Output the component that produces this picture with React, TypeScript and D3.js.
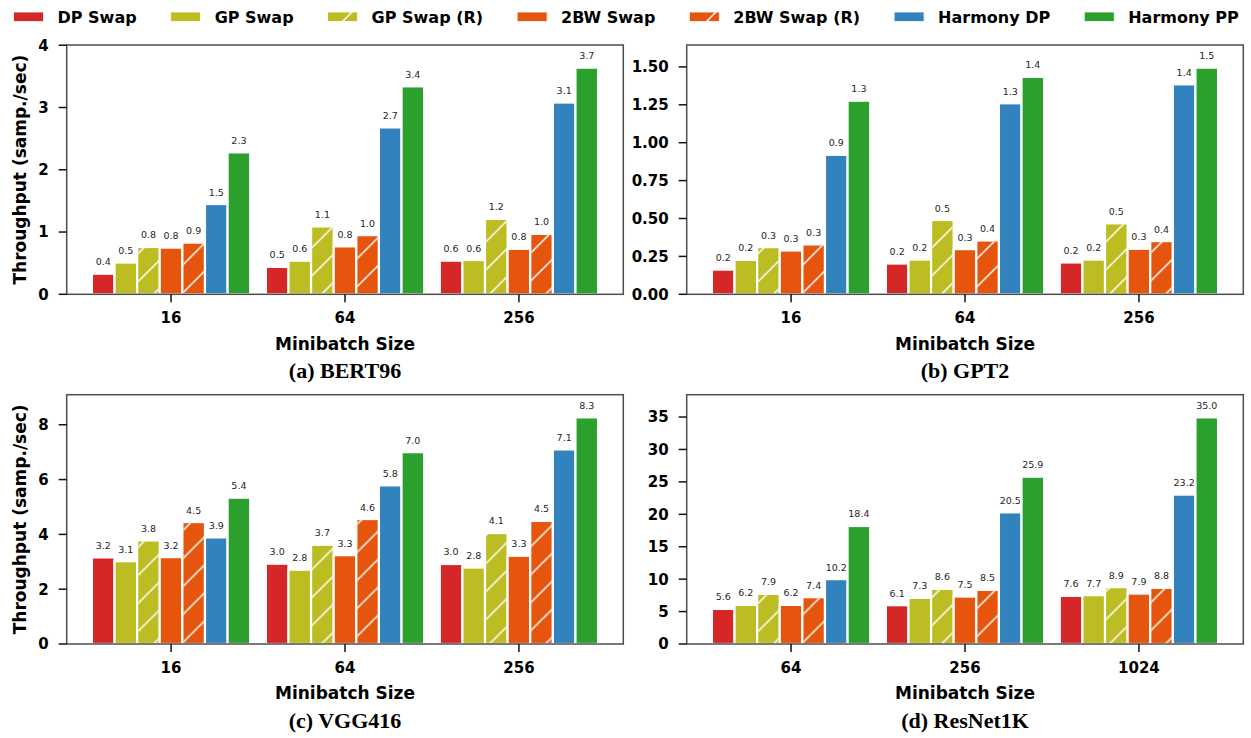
import React, { useRef, useEffect } from 'react';
import * as d3 from 'd3';

// series (legend order)
const categories = ['DP Swap', 'GP Swap', 'GP Swap (R)', '2BW Swap', '2BW Swap (R)', 'Harmony DP', 'Harmony PP'];
const colors = ['#d62728', '#bcbd22', '#bcbd22', '#e6550d', '#e6550d', '#3182bd', '#2ca02c'];
const hatched = [false, false, true, false, true, false, false];

// (a) BERT96
const bertBatches = ['16', '64', '256'];
const bertValues = [
  [0.33, 0.51, 0.76, 0.75, 0.83, 1.45, 2.28],
  [0.44, 0.54, 1.09, 0.77, 0.95, 2.68, 3.34],
  [0.54, 0.55, 1.21, 0.73, 0.97, 3.08, 3.64],
];
const bertLabels = [
  ['0.4', '0.5', '0.8', '0.8', '0.9', '1.5', '2.3'],
  ['0.5', '0.6', '1.1', '0.8', '1.0', '2.7', '3.4'],
  ['0.6', '0.6', '1.2', '0.8', '1.0', '3.1', '3.7'],
];
const bertTicks = [0, 1, 2, 3, 4];

// (b) GPT2
const gptBatches = ['16', '64', '256'];
const gptValues = [
  [0.163, 0.227, 0.311, 0.289, 0.329, 0.92, 1.277],
  [0.203, 0.229, 0.49, 0.298, 0.355, 1.26, 1.434],
  [0.21, 0.229, 0.468, 0.3, 0.351, 1.385, 1.495],
];
const gptLabels = [
  ['0.2', '0.2', '0.3', '0.3', '0.3', '0.9', '1.3'],
  ['0.2', '0.2', '0.5', '0.3', '0.4', '1.3', '1.4'],
  ['0.2', '0.2', '0.5', '0.3', '0.4', '1.4', '1.5'],
];
const gptTicks = [0, 0.25, 0.5, 0.75, 1.0, 1.25, 1.5];

// (c) VGG416
const vggBatches = ['16', '64', '256'];
const vggValues = [
  [3.16, 3.02, 3.78, 3.17, 4.45, 3.89, 5.34],
  [2.93, 2.71, 3.62, 3.24, 4.56, 5.79, 7.0],
  [2.92, 2.79, 4.05, 3.22, 4.49, 7.1, 8.27],
];
const vggLabels = [
  ['3.2', '3.1', '3.8', '3.2', '4.5', '3.9', '5.4'],
  ['3.0', '2.8', '3.7', '3.3', '4.6', '5.8', '7.0'],
  ['3.0', '2.8', '4.1', '3.3', '4.5', '7.1', '8.3'],
];
const vggTicks = [0, 2, 4, 6, 8];

// (d) ResNet1K
const resnetBatches = ['64', '256', '1024'];
const resnetValues = [
  [5.41, 6.03, 7.73, 6.03, 7.22, 10.0, 18.2],
  [5.98, 7.11, 8.5, 7.32, 8.35, 20.3, 25.8],
  [7.42, 7.53, 8.77, 7.78, 8.66, 23.04, 34.95],
];
const resnetLabels = [
  ['5.6', '6.2', '7.9', '6.2', '7.4', '10.2', '18.4'],
  ['6.1', '7.3', '8.6', '7.5', '8.5', '20.5', '25.9'],
  ['7.6', '7.7', '8.9', '7.9', '8.8', '23.2', '35.0'],
];
const resnetTicks = [0, 5, 10, 15, 20, 25, 30, 35];

const FONT = 'DejaVu Sans, Verdana, sans-serif';

const App = () => {
  const svgRef = useRef(null);

  useEffect(() => {
    const width = 1251;
    const height = 738;
    const svg = d3.select(svgRef.current);
    svg.selectAll('*').remove();
    svg.attr('width', width).attr('height', height);

    // hatch pattern '/'
    const defs = svg.append('defs');
    const pat = defs.append('pattern')
      .attr('id', 'hatch')
      .attr('patternUnits', 'userSpaceOnUse')
      .attr('width', 28)
      .attr('height', 28);
    pat.append('path')
      .attr('d', 'M-7,7 L7,-7 M0,28 L28,0 M21,35 L35,21')
      .attr('stroke', 'white')
      .attr('stroke-width', 1.5);

    const panels = [
      { batches: bertBatches, values: bertValues, labels: bertLabels, ticks: bertTicks, fmt: 'd', caption: '(a) BERT96', left: 66.7, top: 45, ylabel: true },
      { batches: gptBatches, values: gptValues, labels: gptLabels, ticks: gptTicks, fmt: '.2f', caption: '(b) GPT2', left: 686.7, top: 45, ylabel: false },
      { batches: vggBatches, values: vggValues, labels: vggLabels, ticks: vggTicks, fmt: 'd', caption: '(c) VGG416', left: 66.7, top: 394.7, ylabel: true },
      { batches: resnetBatches, values: resnetValues, labels: resnetLabels, ticks: resnetTicks, fmt: 'd', caption: '(d) ResNet1K', left: 686.7, top: 394.7, ylabel: false },
    ];
    const pw = 556.6;
    const ph = 249.3;
    const barW = 0.13;

    panels.forEach(p => {
      const g = svg.append('g').attr('transform', `translate(${p.left},${p.top})`);
      const x = d3.scaleLinear().domain([-0.6, 2.6]).range([0, pw]);
      const ymax = d3.max(p.values.flat()) * 1.1;
      const y = d3.scaleLinear().domain([0, ymax]).range([ph, 0]);
      const pxW = x(barW) - x(0);

      p.values.forEach((grp, gi) => {
        grp.forEach((v, si) => {
          const cx = gi + (si - 3) * barW;
          const x0 = x(cx) - pxW / 2;
          g.append('rect')
            .attr('x', x0).attr('y', y(v))
            .attr('width', pxW).attr('height', ph - y(v))
            .attr('fill', colors[si])
            .attr('stroke', 'white').attr('stroke-width', 2.2);
          if (hatched[si]) {
            g.append('rect')
              .attr('x', x0 + 1).attr('y', y(v) + 1)
              .attr('width', pxW - 2).attr('height', Math.max(0, ph - y(v) - 1))
              .attr('fill', 'url(#hatch)');
          }
          g.append('text')
            .attr('x', x(cx)).attr('y', y(v) - 8.5)
            .attr('text-anchor', 'middle')
            .style('font-family', FONT).style('font-size', '9.5px')
            .attr('fill', '#262626')
            .text(p.labels[gi][si]);
        });
      });

      // frame
      g.append('rect')
        .attr('x', 0).attr('y', 0).attr('width', pw).attr('height', ph)
        .attr('fill', 'none').attr('stroke', '#4d4d4d').attr('stroke-width', 1.5);

      // y ticks
      const fmt = d3.format(p.fmt);
      p.ticks.filter(t => t <= ymax + 1e-9).forEach(t => {
        g.append('line').attr('x1', -8).attr('x2', 0).attr('y1', y(t)).attr('y2', y(t))
          .attr('stroke', '#111').attr('stroke-width', 1.5);
        g.append('text').attr('x', -18).attr('y', y(t)).attr('dy', '0.36em')
          .attr('text-anchor', 'end')
          .style('font-family', FONT).style('font-size', '15px').style('font-weight', 'bold')
          .text(fmt(t));
      });

      // x ticks
      p.batches.forEach((b, i) => {
        g.append('line').attr('x1', x(i)).attr('x2', x(i)).attr('y1', ph).attr('y2', ph + 8)
          .attr('stroke', '#111').attr('stroke-width', 1.5);
        g.append('text').attr('x', x(i)).attr('y', ph + 29)
          .attr('text-anchor', 'middle')
          .style('font-family', FONT).style('font-size', '15px').style('font-weight', 'bold')
          .text(b);
      });

      g.append('text').attr('x', pw / 2).attr('y', ph + 55.5)
        .attr('text-anchor', 'middle')
        .style('font-family', FONT).style('font-size', '17px').style('font-weight', 'bold')
        .text('Minibatch Size');

      g.append('text').attr('x', pw / 2).attr('y', ph + 84)
        .attr('text-anchor', 'middle')
        .style('font-family', 'Liberation Serif, Times New Roman, serif').style('font-size', '22px').style('font-weight', 'bold')
        .text(p.caption);

      if (p.ylabel) {
        g.append('text')
          .attr('transform', `translate(${26 - p.left},${ph / 2}) rotate(-90)`)
          .attr('text-anchor', 'middle')
          .style('font-family', FONT).style('font-size', '17px').style('font-weight', 'bold')
          .text('Throughput (samp./sec)');
      }
    });

    // legend
    const ctx = document.createElement('canvas').getContext('2d');
    ctx.font = `bold 16px ${FONT}`;
    let lx = 13.5;
    const leg = svg.append('g');
    categories.forEach((c, i) => {
      leg.append('rect').attr('x', lx).attr('y', 12).attr('width', 30).attr('height', 9.5)
        .attr('fill', colors[i]).attr('stroke', 'white').attr('stroke-width', 0.8);
      if (hatched[i]) {
        leg.append('rect').attr('x', lx).attr('y', 12).attr('width', 30).attr('height', 9.5)
          .attr('fill', 'url(#hatch)');
      }
      leg.append('text').attr('x', lx + 44).attr('y', 16.8).attr('dy', '0.36em')
        .style('font-family', FONT).style('font-size', '16px').style('font-weight', 'bold')
        .text(c);
      lx += 44 + ctx.measureText(c).width + 34;
    });
  }, []);

  return (
    <svg ref={svgRef} style={{ position: 'absolute', left: 0, top: 0, background: 'white' }} />
  );
};

export default App;
